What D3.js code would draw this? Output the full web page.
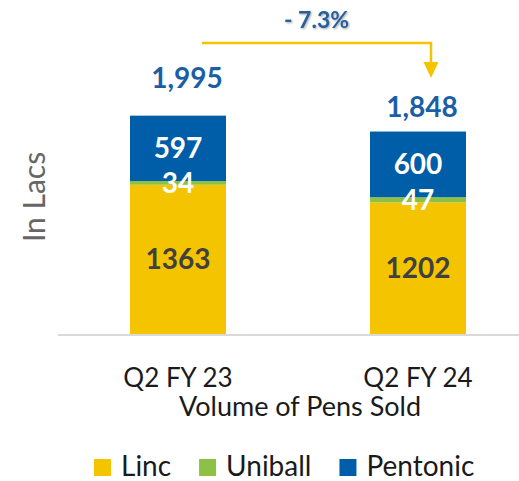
<!DOCTYPE html>
<html>
<head>
<meta charset="utf-8">
<script src="https://cdn.jsdelivr.net/npm/d3@7"></script>
<style>
  html, body { margin: 0; padding: 0; background: #fff; }
  svg { display: block; font-family: Lato, "Open Sans", sans-serif; }
</style>
</head>
<body>
<svg id="chart" width="519" height="481"></svg>
<script>
// ---- data ----
const categories = ["Q2 FY 23", "Q2 FY 24"];
const seriesNames = ["Linc", "Uniball", "Pentonic"];
const linc = [1363, 1202];
const uniball = [34, 47];
const pentonic = [597, 600];
const totalLabels = ["1,995", "1,848"];
const changeLabel = "- 7.3%";
const xTitle = "Volume of Pens Sold";
const yTitle = "In Lacs";

// ---- styles ----
const colors = { Linc: "#F5C400", Uniball: "#8DC145", Pentonic: "#005EA8" };
const labelColors = { Linc: "#404040", Uniball: "#FFFFFF", Pentonic: "#FFFFFF" };
const blue = "#1A5FA6";

const svg = d3.select("#chart");

const table = categories.map((c, i) => ({ cat: c, Linc: linc[i], Uniball: uniball[i], Pentonic: pentonic[i] }));
const stacked = d3.stack().keys(seriesNames)(table);

const x = d3.scaleBand().domain(categories).range([58, 538]).paddingInner(0.6).paddingOuter(0.3);
const y = d3.scaleLinear().domain([0, 2000]).range([334, 115]);
const xc = c => x(c) + x.bandwidth() / 2;

// bars
svg.append("g").selectAll("g").data(stacked).join("g")
  .attr("fill", d => colors[d.key])
  .selectAll("rect").data(d => d).join("rect")
  .attr("x", d => x(d.data.cat))
  .attr("width", x.bandwidth())
  .attr("y", d => y(d[1]))
  .attr("height", d => y(d[0]) - y(d[1]));

// axis baseline
const xAxis = d3.axisBottom(x).tickSize(0).tickFormat("");
const ax = svg.append("g").attr("transform", "translate(0,335)").call(xAxis);
ax.select(".domain").attr("d", "M0,0H461").attr("transform", "translate(58,0)")
  .attr("stroke", "#D9D9D9").attr("stroke-width", 2);

// segment labels
stacked.forEach(s => {
  svg.append("g").selectAll("text").data(s).join("text")
    .attr("x", d => xc(d.data.cat))
    .attr("y", d => y((d[0] + d[1]) / 2))
    .attr("dy", "0.36em")
    .attr("text-anchor", "middle")
    .attr("font-size", 28).attr("font-weight", 700)
    .attr("fill", labelColors[s.key])
    .text(d => d.data[s.key]);
});

// totals
const totalOffsets = [[9, 28], [4, 15]];
svg.append("g").selectAll("text").data(table).join("text")
  .attr("x", (d, i) => xc(d.cat) + totalOffsets[i][0])
  .attr("y", (d, i) => y(d.Linc + d.Uniball + d.Pentonic) - totalOffsets[i][1])
  .attr("text-anchor", "middle")
  .attr("font-size", 28).attr("font-weight", 700)
  .attr("fill", blue)
  .text((d, i) => totalLabels[i]);

// change arrow
const ax1 = xc(categories[0]) + 24, ax2 = xc(categories[1]) + 13;
const arrowY = 43;
svg.append("path")
  .attr("d", `M${ax1},${arrowY}H${ax2}V${arrowY + 20}`)
  .attr("fill", "none").attr("stroke", "#F5C400").attr("stroke-width", 2.5);
svg.append("path")
  .attr("d", `M${ax2 - 7.5},${arrowY + 19}L${ax2 + 7.5},${arrowY + 19}L${ax2},${arrowY + 35}Z`)
  .attr("fill", "#F5C400");

const defs = svg.append("defs");
const f = defs.append("filter").attr("id", "sh").attr("x", "-20%").attr("y", "-40%").attr("width", "140%").attr("height", "180%");
f.append("feDropShadow").attr("dx", 1).attr("dy", 1).attr("stdDeviation", 1).attr("flood-color", "#000").attr("flood-opacity", 0.35);

svg.append("text")
  .attr("x", (ax1 + ax2) / 2).attr("y", 28)
  .attr("text-anchor", "middle")
  .attr("font-size", 23).attr("font-weight", 700)
  .attr("fill", "#2A5F99")
  .attr("filter", "url(#sh)")
  .text(changeLabel);

// x labels
svg.append("g").selectAll("text").data(categories).join("text")
  .attr("x", d => xc(d)).attr("y", 387)
  .attr("text-anchor", "middle")
  .attr("font-size", 26).attr("fill", "#1A1A1A")
  .text(d => d);

svg.append("text")
  .attr("x", 300).attr("y", 416)
  .attr("text-anchor", "middle")
  .attr("font-size", 27).attr("fill", "#1A1A1A")
  .text(xTitle);

// y title
svg.append("text")
  .attr("transform", "translate(45,197) rotate(-90)")
  .attr("text-anchor", "middle")
  .attr("font-size", 30).attr("font-weight", 400).attr("fill", "#666666")
  .text(yTitle);

// legend
const lg = svg.append("g");
let lx = 94;
seriesNames.forEach(n => {
  lg.append("rect").attr("x", lx).attr("y", 459).attr("width", 17).attr("height", 17).attr("fill", colors[n]);
  const t = lg.append("text").attr("x", lx + 27).attr("y", 476)
    .attr("font-size", 28).attr("fill", "#1A1A1A").text(n);
  lx += 27 + t.node().getComputedTextLength() + 28;
});
</script>
</body>
</html>
